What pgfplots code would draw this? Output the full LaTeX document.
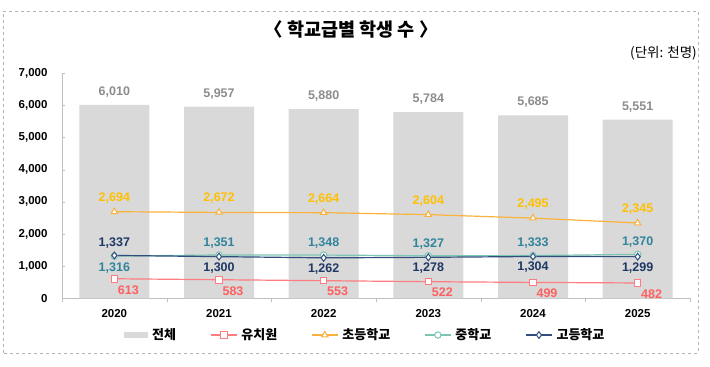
\documentclass[border=0pt]{standalone}
\usepackage{fontspec}
\setmainfont{Liberation Sans}
\newfontfamily\kr{Noto Sans CJK KR}
\usepackage{pgfplots}
\pgfplotsset{compat=1.18}
\definecolor{barc}{HTML}{D9D9D9}
\definecolor{barlab}{HTML}{8C8C8C}
\definecolor{kinder}{HTML}{FF7C80}
\definecolor{kinderlab}{HTML}{FF5F5F}
\definecolor{elem}{HTML}{FAB23C}
\definecolor{elemlab}{HTML}{FFC000}
\definecolor{mid}{HTML}{7CC4B4}
\definecolor{midlab}{HTML}{31849B}
\definecolor{high}{HTML}{2F4E7E}
\definecolor{highlab}{HTML}{1F3864}
\definecolor{axisgray}{HTML}{BFBFBF}
\begin{document}
\begin{tikzpicture}
\begin{axis}[
  at={(62pt,68.5pt)}, anchor=south west,
  scale only axis, width=628pt, height=225.5pt,
  xmin=-0.5, xmax=5.5, ymin=0, ymax=7000,
  axis x line*=bottom, axis y line*=left,
  axis line style={axisgray},
  clip=false,
  /pgf/number format/assume math mode=true,
  /pgf/number format/1000 sep={,},
  tick align=inside, major tick length=3pt,
  xtick={0,...,5}, xticklabels={2020,2021,2022,2023,2024,2025},
  xtick style={draw=none},
  extra x ticks={-0.5,0.5,1.5,2.5,3.5,4.5,5.5}, extra x tick labels={},
  extra x tick style={xtick style={draw=axisgray}, tick align=outside, major tick length=4pt},
  ytick={0,1000,...,7000}, ytick style={draw=axisgray},
  tick label style={font=\bfseries\fontsize{11.5}{13}\selectfont},
  xticklabel style={yshift=-7pt},
  yticklabel style={xshift=-11pt},
  every node near coord/.append style={font=\bfseries\fontsize{12.5}{14}\selectfont, inner sep=0pt, anchor=center},
  legend columns=5,
  legend style={at={(0.483,-0.162)}, anchor=center, draw=none, fill=none,
    font=\kr\bfseries\fontsize{13}{15}\selectfont,
    /tikz/every even column/.append style={column sep=32pt},
    /tikz/every odd column/.append style={column sep=2pt}},
  legend image code/.code={\draw[mark repeat=2,mark phase=2,#1] plot coordinates {(0pt,0pt) (13pt,0pt) (26pt,0pt)};},
]
\addplot[ybar, bar width=70pt, bar shift=0pt, fill=barc, draw=none,
  legend image code/.code={\fill[barc] (0pt,-3pt) rectangle (24pt,3pt);},
  nodes near coords, every node near coord/.append style={text=barlab, yshift=13pt}]
  coordinates {(0,6010)(1,5957)(2,5880)(3,5784)(4,5685)(5,5551)};
\addlegendentry{전체}
\addplot[color=kinder, line width=1.2pt, mark=square*, mark size=3.3pt, mark options={fill=white, line width=1pt},
  nodes near coords, every node near coord/.append style={text=kinderlab, xshift=14pt, yshift=-11pt}]
  coordinates {(0,613)(1,583)(2,553)(3,522)(4,499)(5,482)};
\addlegendentry{유치원}
\addplot[color=elem, line width=1.2pt, mark=triangle*, mark size=3.6pt, mark options={fill=white, line width=1pt},
  nodes near coords, every node near coord/.append style={text=elemlab, yshift=14pt}]
  coordinates {(0,2694)(1,2672)(2,2664)(3,2604)(4,2495)(5,2345)};
\addlegendentry{초등학교}
\addplot[color=mid, line width=1.2pt, mark=*, mark size=3.2pt, mark options={fill=white, line width=1pt}]
  coordinates {(0,1316)(1,1351)(2,1348)(3,1327)(4,1333)(5,1370)};
\addlegendentry{중학교}
\addplot[color=high, line width=1.2pt, mark=diamond*, mark size=3.4pt, mark options={fill=white, line width=1pt}]
  coordinates {(0,1337)(1,1300)(2,1262)(3,1278)(4,1304)(5,1299)};
\addlegendentry{고등학교}
\addplot[draw=none, forget plot, nodes near coords, every node near coord/.append style={text=midlab, yshift=12pt}]
  coordinates {(1,1351)(2,1348)(3,1327)(4,1333)(5,1370)};
\addplot[draw=none, forget plot, nodes near coords, every node near coord/.append style={text=midlab, yshift=-12pt}]
  coordinates {(0,1316)};
\addplot[draw=none, forget plot, nodes near coords, every node near coord/.append style={text=highlab, yshift=12pt}]
  coordinates {(0,1337)};
\addplot[draw=none, forget plot, nodes near coords, every node near coord/.append style={text=highlab, yshift=-11pt}]
  coordinates {(1,1300)(2,1262)(3,1278)(4,1304)(5,1299)};
\end{axis}
\draw[dashed, color=gray!60] (3pt,14pt) rectangle (698pt,356pt);
\node[font=\kr\bfseries\fontsize{18.5}{21}\selectfont] at (351pt,337.5pt) {〈 학교급별 학생 수 〉};
\node[font=\kr\fontsize{13.5}{16}\selectfont, anchor=east, inner sep=0pt] at (697pt,314pt) {(단위: 천명)};
\path[use as bounding box] (0pt,0pt) rectangle (710pt,367pt);
\end{tikzpicture}
\end{document}
